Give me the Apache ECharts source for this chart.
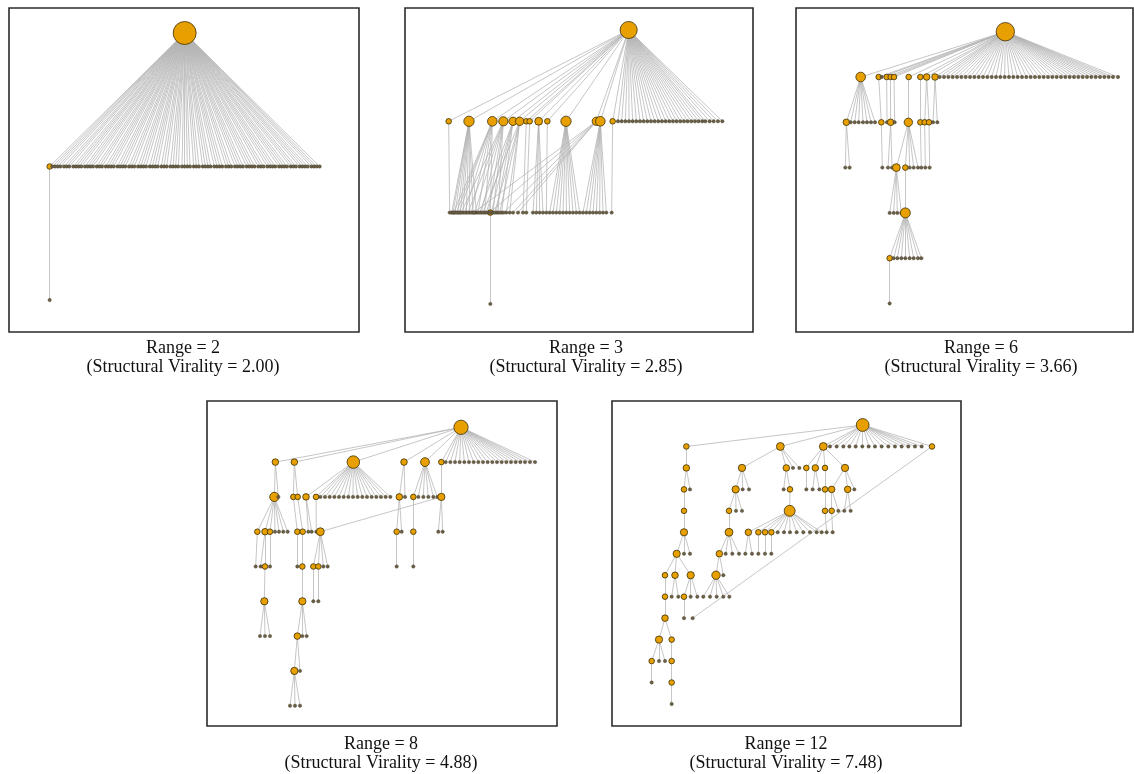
<!DOCTYPE html>
<html>
<head>
<meta charset="utf-8">
<script src="https://cdn.jsdelivr.net/npm/echarts@6/dist/echarts.min.js"></script>
<style>
  html, body { margin: 0; padding: 0; background: #fff; }
  #chart { width: 1134px; height: 774px; }
</style>
</head>
<body>
<div id="chart"></div>
<script>
// captions
var ranges = [2, 3, 6, 8, 12];
var virality = ['2.00', '2.85', '3.66', '4.88', '7.48'];

// cascade trees. each family: [parent depth, parent x, child depth, child x list]
var tree1Root = 530;
var tree1 = [
    [0, 530, 1, [125, 133, 141, 149, 157, 168, 176, 184, 196, 204, 212, 220, 231, 239, 247, 255, 266, 274, 282,
        293, 301, 309, 317, 328, 336, 344, 352, 363, 371, 379, 390, 398, 406, 414, 425, 433, 441, 449, 460, 468,
        476, 487, 495, 503, 511, 522, 530, 538, 546, 557, 565, 573, 584, 592, 600, 608, 619, 627, 635, 643, 654,
        662, 670, 681, 689, 697, 705, 716, 724, 732, 740, 751, 759, 767, 778, 786, 794, 802, 813, 821, 829, 837,
        848, 856, 864, 875, 883, 891, 899, 910, 918, 926, 935]],
    [1, 125, 2, [125]]
];

var tree2Root = 677;
var tree2 = [
    [0, 677, 1, [137, 198, 268, 301, 330, 350, 370, 380, 407, 433, 489, 580, 592, 629, 645, 656, 667, 678, 689,
        700, 711, 722, 733, 744, 755, 766, 777, 788, 799, 810, 821, 832, 843, 854, 865, 876, 887, 898, 907, 920,
        932, 945, 958]],
    [1, 137, 2, [140]],
    [1, 198, 2, [146, 150, 156, 164, 172, 180, 190, 200, 210, 220]],
    [1, 268, 2, [152, 160, 168, 185, 205, 225, 245, 262]],
    [1, 301, 2, [175, 195, 215, 235, 256, 270, 285]],
    [1, 330, 2, [230, 250, 265, 280, 296]],
    [1, 350, 2, [240, 275, 290, 310, 320]],
    [1, 370, 2, [360]],
    [1, 380, 2, [370]],
    [1, 407, 2, [390, 400, 410, 420]],
    [1, 433, 2, [430]],
    [1, 489, 2, [440, 450, 460, 470, 480, 490, 500, 510, 520, 530]],
    [1, 580, 2, [212, 260, 302, 330, 345]],
    [1, 592, 2, [540, 550, 560, 570, 580, 590, 600, 610]],
    [1, 629, 2, [626]],
    [2, 262, 3, [262]]
];

var tree3Root = 637;
var tree3 = [
    [0, 637, 1, [203, 257, 266, 281, 293, 303, 347, 382, 401, 426, 440, 453, 466, 479, 492, 505, 518, 531, 544,
        557, 570, 583, 596, 609, 622, 635, 648, 661, 674, 687, 700, 713, 726, 739, 752, 765, 778, 791, 804, 817,
        830, 843, 856, 869, 882, 895, 908, 921, 934, 947, 960, 975]],
    [1, 203, 2, [160, 173, 185, 197, 210, 222, 234, 246]],
    [1, 257, 2, [265]],
    [1, 281, 2, [282]],
    [1, 293, 2, [293]],
    [1, 303, 2, [305]],
    [1, 347, 2, [346]],
    [1, 382, 2, [382]],
    [1, 401, 2, [395, 408]],
    [1, 426, 2, [420, 433]],
    [2, 160, 3, [157, 170]],
    [2, 265, 3, [268]],
    [2, 293, 3, [285, 297]],
    [2, 346, 3, [310, 337, 350, 362, 375]],
    [2, 382, 3, [385]],
    [2, 395, 3, [397]],
    [2, 408, 3, [410]],
    [3, 310, 4, [290, 302, 313, 325]],
    [3, 337, 4, [337]],
    [4, 337, 5, [290, 302, 313, 325, 337, 350, 362, 375, 385]],
    [5, 290, 6, [290]]
];

var tree4Root = 768;
var tree4 = [
    [0, 768, 1, [211, 268, 445, 597, 660, 709, 722, 736, 750, 764, 778, 792, 806, 820, 834, 848, 862, 876, 890,
        904, 918, 932, 946, 960, 975, 990]],
    [1, 211, 2, [208, 220]],
    [1, 268, 2, [265, 278]],
    [1, 445, 2, [303, 333, 346, 360, 374, 388, 402, 416, 430, 444, 458, 472, 486, 500, 514, 528, 542, 556]],
    [1, 597, 2, [583, 600]],
    [1, 660, 2, [625, 640, 655, 670, 685, 697]],
    [1, 709, 2, [709]],
    [2, 208, 3, [157, 180, 195, 210, 222, 235, 248]],
    [2, 265, 3, [277]],
    [2, 278, 3, [293]],
    [2, 303, 3, [310, 320]],
    [2, 333, 3, [334]],
    [2, 583, 3, [575, 590]],
    [2, 625, 3, [625]],
    [2, 709, 3, [346, 700, 713]],
    [3, 157, 4, [152]],
    [3, 180, 4, [167, 180]],
    [3, 195, 4, [195]],
    [3, 277, 4, [277]],
    [3, 293, 4, [292]],
    [3, 346, 4, [325, 340, 355, 368]],
    [3, 575, 4, [575]],
    [3, 625, 4, [625]],
    [4, 180, 5, [178]],
    [4, 292, 5, [292]],
    [4, 325, 5, [325]],
    [4, 340, 5, [340]],
    [5, 178, 6, [165, 180, 195]],
    [5, 292, 6, [277, 292, 305]],
    [6, 277, 7, [268, 285]],
    [7, 268, 8, [255, 270, 285]]
];

var tree5Root = 758;
var tree5 = [
    [0, 758, 1, [229, 511, 640, 660, 680, 700, 718, 737, 757, 776, 795, 815, 835, 855, 875, 895, 915, 935, 966]],
    [1, 229, 2, [229]],
    [1, 511, 2, [396, 529, 549, 568]],
    [1, 640, 2, [589, 616, 645, 705]],
    [1, 966, 9, [248]],
    [2, 229, 3, [222, 240]],
    [2, 396, 3, [377, 398, 417]],
    [2, 529, 3, [521, 540]],
    [2, 589, 3, [589]],
    [2, 616, 3, [608, 628]],
    [2, 645, 3, [645]],
    [2, 705, 3, [665, 713, 733]],
    [3, 222, 4, [222]],
    [3, 377, 4, [357, 378, 396]],
    [3, 540, 4, [539]],
    [3, 645, 4, [645]],
    [3, 665, 4, [665, 685]],
    [3, 713, 4, [703, 722]],
    [4, 222, 5, [222]],
    [4, 357, 5, [357]],
    [4, 539, 5, [415, 445, 465, 484, 503, 522, 540, 560, 580, 600, 620, 635]],
    [4, 645, 5, [650]],
    [4, 665, 5, [668]],
    [5, 222, 6, [200, 222, 240]],
    [5, 357, 6, [328, 347, 367, 387]],
    [5, 415, 6, [406, 426]],
    [5, 445, 6, [445]],
    [5, 465, 6, [465]],
    [5, 484, 6, [484]],
    [6, 200, 7, [165, 195, 242]],
    [6, 328, 7, [318, 340]],
    [7, 165, 8, [165]],
    [7, 195, 8, [185, 205]],
    [7, 242, 8, [222, 242, 262]],
    [7, 318, 8, [280, 300, 320, 340, 358]],
    [8, 165, 9, [165]],
    [8, 222, 9, [222]],
    [9, 165, 10, [147, 185]],
    [10, 147, 11, [125, 147, 165]],
    [10, 185, 11, [185]],
    [11, 125, 12, [125]],
    [11, 185, 12, [185]],
    [12, 185, 13, [185]]
];

// panel boxes (px) and the x range / depth step each one shows
var panels = [
    { root: tree1Root, fam: tree1, left: 9,   top: 8,   width: 350, height: 324, xMin: 3, xMax: 1053, rootY: 25,  step: 133.5 },
    { root: tree2Root, fam: tree2, left: 405, top: 8,   width: 348, height: 324, xMin: 6, xMax: 1050, rootY: 22,  step: 91.3 },
    { root: tree3Root, fam: tree3, left: 796, top: 8,   width: 337, height: 324, xMin: 9, xMax: 1020, rootY: 23.7, step: 45.3 },
    { root: tree4Root, fam: tree4, left: 207, top: 401, width: 350, height: 325, xMin: 6, xMax: 1056, rootY: 26.3, step: 34.8 },
    { root: tree5Root, fam: tree5, left: 612, top: 401, width: 349, height: 325, xMin: 6, xMax: 1053, rootY: 24,  step: 21.46 }
];
var captionX = [183, 586, 981, 381, 786];
var captionY = [339, 339, 339, 735, 735];

var ORANGE = '#E8A000';
var EDGE = '#b3b3b3';

function buildTree(rootX, families) {
    var nodes = [{ value: [rootX, 0], kids: 0 }];
    var lookup = {};
    lookup['0:' + rootX] = 0;
    var links = [];
    families.forEach(function (f) {
        var p = lookup[f[0] + ':' + f[1]];
        if (p === undefined) { console.warn('missing parent', f[0], f[1]); return; }
        f[3].forEach(function (x) {
            var idx = nodes.length;
            nodes.push({ value: [x, f[2]], kids: 0 });
            var key = f[2] + ':' + x;
            if (lookup[key] === undefined) lookup[key] = idx;
            links.push({ source: p, target: idx });
            nodes[p].kids++;
        });
    });
    // node size grows with the number of children
    var data = nodes.map(function (n) {
        if (n.kids > 0) {
            return {
                value: n.value,
                symbolSize: 3 + 2.6 * Math.pow(n.kids, 0.45),
                itemStyle: { color: ORANGE, borderColor: '#3b2f08', borderWidth: 0.8 }
            };
        }
        return {
            value: n.value,
            symbolSize: 3.4,
            itemStyle: { color: '#6a6046', borderColor: '#443a28', borderWidth: 0.4 }
        };
    });
    return { data: data, links: links };
}

var grids = [], xAxes = [], yAxes = [], series = [], titles = [];
panels.forEach(function (p, i) {
    grids.push({
        left: p.left, top: p.top, width: p.width, height: p.height,
        show: true, borderColor: '#2b2b2b', borderWidth: 1.6, backgroundColor: '#fff'
    });
    xAxes.push({ type: 'value', gridIndex: i, min: p.xMin, max: p.xMax, show: false });
    yAxes.push({
        type: 'value', gridIndex: i, inverse: true, show: false,
        min: -p.rootY / p.step, max: (p.height - p.rootY) / p.step
    });
    var t = buildTree(p.root, p.fam);
    series.push({
        type: 'graph',
        coordinateSystem: 'cartesian2d',
        xAxisIndex: i, yAxisIndex: i,
        symbol: 'circle',
        data: t.data,
        links: t.links,
        lineStyle: { color: EDGE, width: 0.75, opacity: 1, curveness: 0 },
        label: { show: false },
        emphasis: { disabled: true },
        silent: true,
        animation: false
    });
    titles.push({
        text: 'Range = ' + ranges[i] + '\n(Structural Virality = ' + virality[i] + ')',
        left: captionX[i], top: captionY[i], textAlign: 'center', padding: 0,
        textStyle: { fontFamily: 'Liberation Serif', fontSize: 18, fontWeight: 'normal', color: '#111', lineHeight: 19 }
    });
});

var chart = echarts.init(document.getElementById('chart'));
chart.setOption({
    backgroundColor: '#fff',
    animation: false,
    title: titles,
    grid: grids,
    xAxis: xAxes,
    yAxis: yAxes,
    series: series
});
</script>
</body>
</html>
